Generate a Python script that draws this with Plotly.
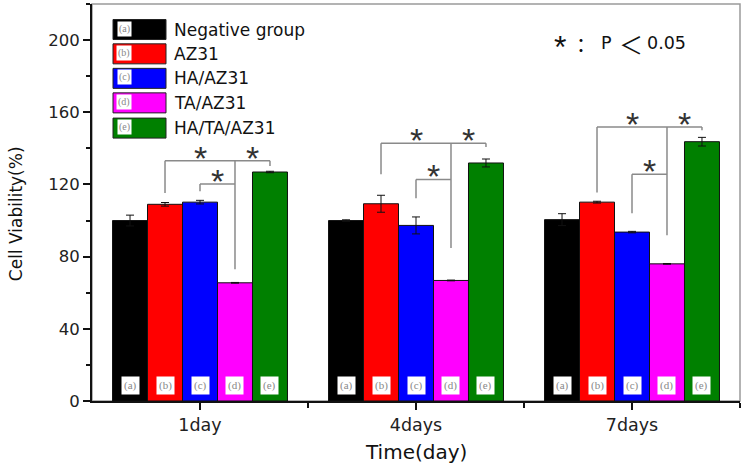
import plotly.graph_objects as go

categories = ["1day", "4days", "7days"]
groups = ["Negative group", "AZ31", "HA/AZ31", "TA/AZ31", "HA/TA/AZ31"]
letters = ["(a)", "(b)", "(c)", "(d)", "(e)"]
colors = ["#000000", "#FF0000", "#0000FF", "#FF00FF", "#008000"]

neg = [100.0, 100.0, 100.5]
az31 = [109.0, 109.3, 110.2]
ha_az31 = [110.2, 97.3, 93.6]
ta_az31 = [65.5, 66.8, 76.0]
ha_ta_az31 = [126.9, 131.9, 143.7]

neg_err = [3.0, 0.4, 3.3]
az31_err = [1.0, 4.7, 0.5]
ha_az31_err = [1.0, 4.7, 0.4]
ta_az31_err = [0.2, 0.2, 0.2]
ha_ta_az31_err = [0.4, 2.2, 2.4]

values = [neg, az31, ha_az31, ta_az31, ha_ta_az31]
errors = [neg_err, az31_err, ha_az31_err, ta_az31_err, ha_ta_az31_err]

# significance brackets (heights in % units)
bracket_top = [133.2, 142.9, 151.8]
left_bottom = [115.2, 125.6, 115.5]
right_bottom = [130.2, 140.7, 150.0]
mid_bottom = [73.0, 84.8, 91.8]
inner_y = [120.2, 122.8, 125.6]
inner_bottom = [116.2, 112.3, 104.0]

BARGAP = 0.19
W = (1 - BARGAP) / 5
FONT = "DejaVu Sans, Arial, sans-serif"
STARFONT = "Liberation Sans, Arial, sans-serif"
CJK = "Noto Sans CJK SC"

fig = go.Figure()
xs = list(range(len(categories)))
for i, g in enumerate(groups):
    fig.add_trace(go.Bar(
        x=xs, y=values[i], name=g,
        marker=dict(color=colors[i], line=dict(color="#111111", width=1)),
        error_y=dict(type="data", array=errors[i], color="#111111", thickness=1, width=4),
        showlegend=False,
    ))

def bx(day, idx):
    return day + (idx - 2) * W

shapes = []
annotations = []
LINE = dict(color="#8a8a8a", width=1.5)
for d in range(len(categories)):
    xb, xc, xd, xe = bx(d, 1), bx(d, 2), bx(d, 3), bx(d, 4)
    t = bracket_top[d]
    shapes += [
        dict(type="line", xref="x", yref="y", x0=xb, x1=xe, y0=t, y1=t, line=LINE),
        dict(type="line", xref="x", yref="y", x0=xb, x1=xb, y0=left_bottom[d], y1=t, line=LINE),
        dict(type="line", xref="x", yref="y", x0=xe, x1=xe, y0=right_bottom[d], y1=t, line=LINE),
        dict(type="line", xref="x", yref="y", x0=xd, x1=xd, y0=mid_bottom[d], y1=t, line=LINE),
        dict(type="line", xref="x", yref="y", x0=xc, x1=xd, y0=inner_y[d], y1=inner_y[d], line=LINE),
        dict(type="line", xref="x", yref="y", x0=xc, x1=xc, y0=inner_bottom[d], y1=inner_y[d], line=LINE),
    ]
    for (xa, ya) in [((xb + xd) / 2, t), ((xd + xe) / 2, t), ((xc + xd) / 2, inner_y[d])]:
        annotations.append(dict(x=xa, y=ya, xref="x", yref="y", text="*", showarrow=False,
                                xanchor="center", yanchor="middle", yshift=3,
                                font=dict(family=STARFONT, size=34, color="#333333")))
    for i in range(5):
        annotations.append(dict(x=bx(d, i), y=8.7, xref="x", yref="y", text=letters[i],
                                showarrow=False, bgcolor="white", borderpad=2,
                                xanchor="center", yanchor="middle",
                                font=dict(family="Liberation Serif, serif", size=11, color="#888888")))

# helper for pixel -> paper coordinates (plot area 92..740 x 4..400.7)
L, R, T, B = 92, 740, 4, 400.7
def px(x):
    return (x - L) / (R - L)
def py(y):
    return (B - y) / (B - T)

# frame (top / right border)
shapes.append(dict(type="rect", xref="paper", yref="paper", x0=0, x1=1, y0=0, y1=1,
                   line=dict(color="#9a9a9a", width=1.5), layer="below"))

# manual legend
row_y = [29.5, 53.8, 78.3, 102.8, 128.0]
for i, g in enumerate(groups):
    yc = row_y[i]
    shapes.append(dict(type="rect", xref="paper", yref="paper",
                       x0=px(113), x1=px(166), y0=py(yc + 10), y1=py(yc - 10),
                       fillcolor=colors[i], line=dict(color="#222222", width=1)))
    annotations.append(dict(x=px(124), y=py(yc - 1), xref="paper", yref="paper", text=letters[i],
                            showarrow=False, bgcolor="white", borderpad=1,
                            xanchor="center", yanchor="middle",
                            font=dict(family="Liberation Serif, serif", size=10, color="#888888")))
    annotations.append(dict(x=px(172), y=py(yc), xref="paper", yref="paper", text=g,
                            xanchor="left", yanchor="middle", showarrow=False,
                            font=dict(family=FONT, size=17, color="#111111")))

# significance note: "*：P＜0.05"
note_parts = [("*", 560, STARFONT, 32, -4), ("：", 586, CJK, 20, 0),
              ("P", 606, FONT, 17.5, 0), ("＜", 631, CJK, 24, 0), ("0.05", 666, FONT, 17.5, 0)]
for txt, xc_, fam, sz, ys in note_parts:
    annotations.append(dict(x=px(xc_), y=py(43), xref="paper", yref="paper", text=txt,
                            showarrow=False, xanchor="center", yanchor="middle", yshift=ys,
                            font=dict(family=fam, size=sz, color="#111111")))

annotations.append(dict(x=px(416), y=py(452), xref="paper", yref="paper", text="Time(day)",
                        showarrow=False, xanchor="center", yanchor="middle",
                        font=dict(family=FONT, size=20, color="#111111")))
annotations.append(dict(x=px(16), y=py(214), xref="paper", yref="paper", text="Cell Viability(%)",
                        showarrow=False, xanchor="center", yanchor="middle", textangle=-90,
                        font=dict(family=FONT, size=17, color="#111111")))

fig.update_layout(
    width=746, height=466,
    margin=dict(l=L, r=746 - R, t=T, b=466 - B),
    paper_bgcolor="white", plot_bgcolor="white",
    barmode="group", bargap=BARGAP, bargroupgap=0,
    shapes=shapes, annotations=annotations,
    xaxis=dict(range=[-0.5, 2.5], tickmode="array", tickvals=xs, ticktext=categories,
               showline=True, linecolor="#111111", linewidth=2, ticks="outside",
               ticklen=7, tickwidth=2, tickcolor="#111111", showgrid=False, zeroline=False,
               tickfont=dict(family=FONT, size=17.5, color="#222222"),
               minor=dict(tickmode="array", tickvals=[0.5, 1.5, 2.5], ticks="outside",
                          ticklen=5, tickwidth=2, tickcolor="#111111")),
    yaxis=dict(range=[0, 220], tickmode="linear", tick0=0, dtick=40,
               showline=True, linecolor="#111111", linewidth=2, ticks="outside",
               ticklen=7, tickwidth=2, tickcolor="#111111", showgrid=False, zeroline=False,
               tickfont=dict(family=FONT, size=16.5, color="#222222"),
               minor=dict(dtick=20, ticks="outside", ticklen=4, tickwidth=2, tickcolor="#111111")),
)

fig.write_html("out.html", config={"displayModeBar": False},
               post_script="document.body.style.margin='0';")
